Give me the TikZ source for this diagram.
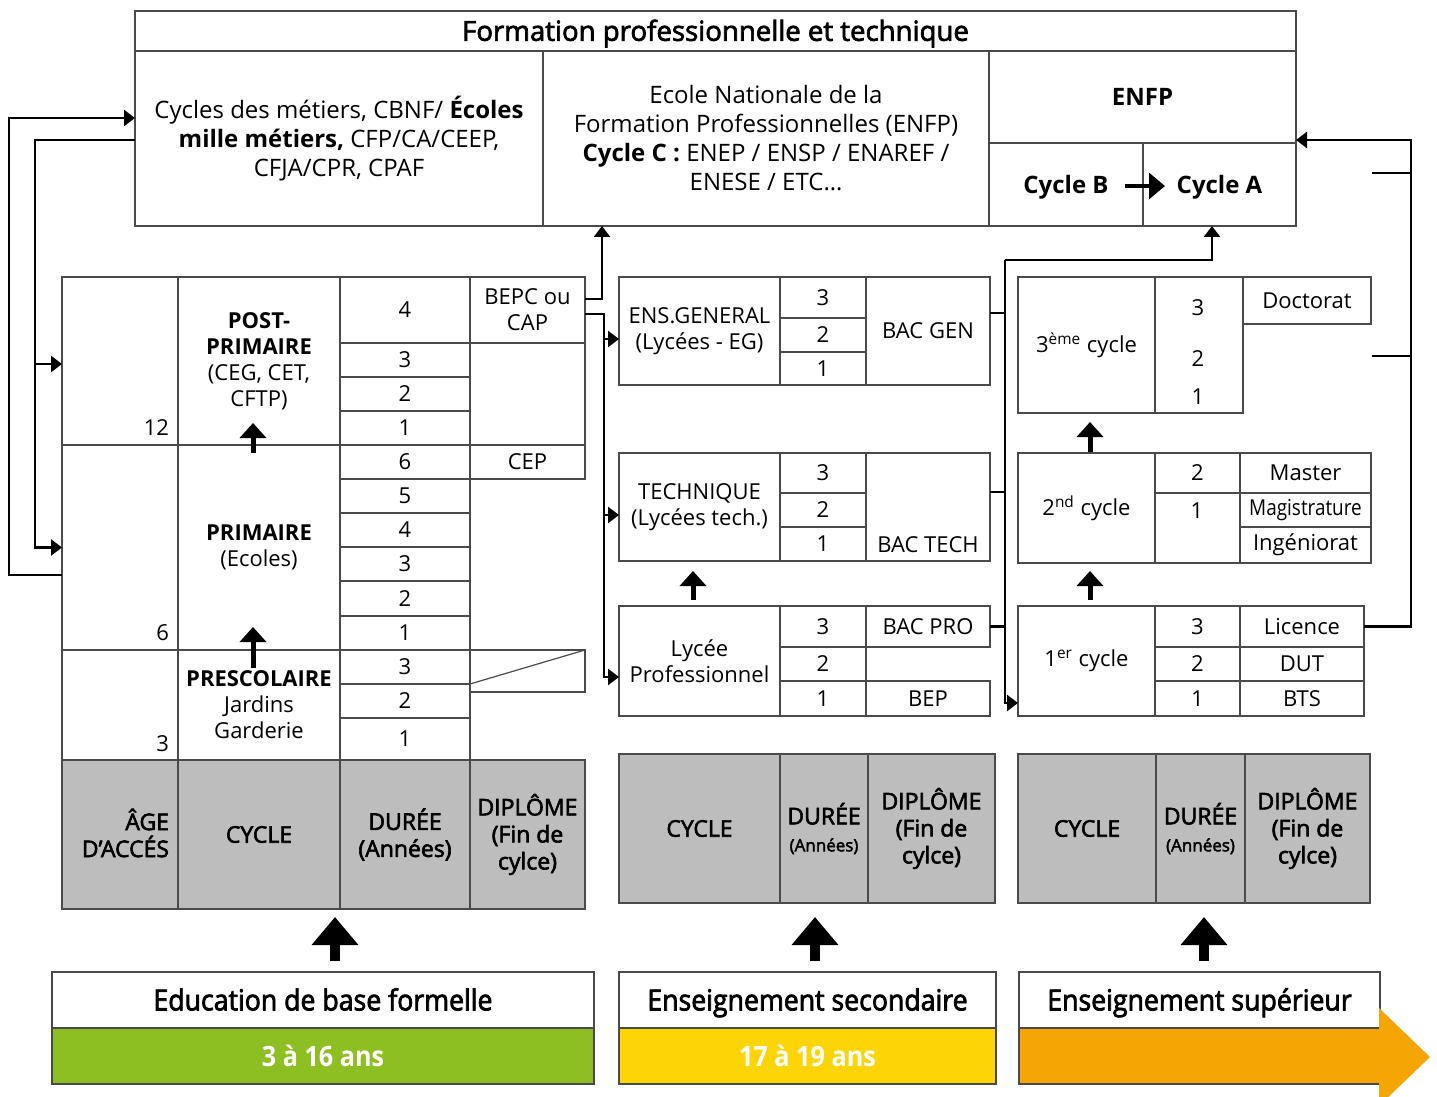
\documentclass[tikz,border=0pt]{standalone}
\usepackage{fontspec}
\usepackage{graphicx}
\setmainfont{Open Sans}
\newfontfamily\semif{Open Sans}[FakeBold=2.5]
\newfontfamily\condf{Open Sans}[FakeStretch=0.9]
\newfontfamily\condsf{Open Sans}[FakeStretch=0.92,FakeBold=2.5]
\usetikzlibrary{arrows.meta}
\definecolor{cellc}{HTML}{4A4A4A}
\definecolor{hdrgrey}{HTML}{BDBDBD}
\definecolor{vert}{HTML}{8DBE22}
\definecolor{jaune}{HTML}{FDD405}
\definecolor{orangeb}{HTML}{F5A604}
\newcommand\fs[2]{\fontsize{#1}{#2}\selectfont}
\newcommand\cellb[7][]{\node[cell,#1,minimum width={((#5)-(#3))*0.5pt},minimum height={((#6)-(#4))*0.5pt}] (#2) at ({((#3)+(#5))/2},{((#4)+(#6))/2}) {#7};}
\begin{document}
\begin{tikzpicture}[x=0.5pt,y=-0.5pt,
  cell/.style={draw=cellc,line width=0.6pt,inner sep=0pt,outer sep=0pt,align=center,font=\fs{11}{13}},
  hdr/.style={fill=hdrgrey,font=\semif\fs{11.5}{13.5}},
  txt/.style={inner sep=0pt,outer sep=0pt,align=center,font=\fs{11}{13}},
  capc/.style={text height=#1,text depth=0pt},
  conn/.style={line width=1.3pt,-{Triangle[length=5.5pt,width=8pt]}},
  plainc/.style={line width=1.3pt},
  blk/.style={line width=2.5pt,-{Triangle[length=7.5pt,width=13pt]}},
  bigblk/.style={line width=5pt,-{Triangle[length=14pt,width=22.5pt]}},
  botlab/.style={font=\condsf\fs{14.5}{16},capc=10.4pt},
  botage/.style={font=\condf\bfseries\fs{14}{16},text=white,capc=10pt}]
\fill[white] (0,0) rectangle (1437,1097);
\useasboundingbox (0,0) rectangle (1437,1097);

% ---------- top box ----------
\cellb[font=\semif\fs{13.8}{15},capc=9.8pt]{ftitle}{135}{11}{1296}{51}{Formation professionnelle et technique}
\cellb[font=\fs{12}{14.5}]{cmet}{135}{51}{543}{226}{Cycles des métiers, CBNF/ \textbf{Écoles}\\\textbf{mille métiers,} CFP/CA/CEEP,\\CFJA/CPR, CPAF}
\cellb[font=\fs{12}{14.5}]{enfpc}{543}{51}{989}{226}{Ecole Nationale de la\\Formation Professionnelles (ENFP)\\\textbf{Cycle C :} ENEP / ENSP / ENAREF /\\ENESE / ETC…}
\cellb[font=\bfseries\fs{12}{14.5},capc=8.6pt]{enfp}{989}{51}{1296}{143}{ENFP}
\cellb[font=\bfseries\fs{12}{14.5},capc=8.6pt]{cycB}{989}{143}{1143}{226}{Cycle B}
\cellb[font=\bfseries\fs{12}{14.5},capc=8.6pt]{cycA}{1143}{143}{1296}{226}{Cycle A}
\draw[line width=1.6pt,-{Triangle[length=8pt,width=13pt]}] ([xshift=-9pt,yshift=-0.75pt]cycB.east) -- ([xshift=11pt,yshift=-0.75pt]cycA.west);

% ---------- left table ----------
\cellb{agepost}{62}{277}{178}{445}{}
\node[txt,anchor=east] (a12) at (169,428) {12};
\cellb{cycpost}{178}{277}{340}{445}{\textbf{POST-}\\\textbf{PRIMAIRE}\\(CEG, CET,\\CFTP)}
\cellb{pd4}{340}{277}{470}{343}{4}
\cellb{pd3}{340}{343}{470}{377}{3}
\cellb{pd2}{340}{377}{470}{411}{2}
\cellb{pd1}{340}{411}{470}{445}{1}
\cellb{bepc}{470}{277}{585}{343}{BEPC ou\\CAP}
\cellb{pblank}{470}{343}{585}{445}{}
\cellb{cep}{470}{445}{585}{479}{CEP}

\cellb{ageprim}{62}{445}{178}{650}{}
\node[txt,anchor=east] (a6) at (169,633) {6};
\cellb{cycprim}{178}{445}{340}{650}{\textbf{PRIMAIRE}\\(Ecoles)}
\cellb{rd6}{340}{445}{470}{479}{6}
\cellb{rd5}{340}{479}{470}{513}{5}
\cellb{rd4}{340}{513}{470}{547}{4}
\cellb{rd3}{340}{547}{470}{581}{3}
\cellb{rd2}{340}{581}{470}{616}{2}
\cellb{rd1}{340}{616}{470}{650}{1}

\cellb{agepre}{62}{650}{178}{760}{}
\node[txt,anchor=east] (a3) at (169,744) {3};
\cellb{cycpre}{178}{650}{340}{760}{\textbf{PRESCOLAIRE}\\Jardins\\Garderie}
\cellb{sd3}{340}{650}{470}{684}{3}
\cellb{sd2}{340}{684}{470}{718}{2}
\cellb{sd1}{340}{718}{470}{760}{1}
\cellb{dpre}{470}{650}{585}{692}{}
\draw[draw=cellc,line width=0.6pt] ([yshift=4pt]dpre.south west) -- (dpre.north east);

\cellb[hdr]{hage}{62}{760}{178}{909}{}
\node[txt,font=\semif\fs{11.5}{13.5},align=right,anchor=east] (hagt) at (169,833) {ÂGE\\D’ACCÉS};
\cellb[hdr]{hcyc}{178}{760}{340}{909}{CYCLE}
\cellb[hdr]{hdur}{340}{760}{470}{909}{DURÉE\\(Années)}
\cellb[hdr]{hdip}{470}{760}{585}{909}{DIPLÔME\\(Fin de\\cylce)}

\cellb[botlab]{ebf}{52}{972}{594}{1028}{Education de base formelle}
\cellb[botage,fill=vert]{ebfage}{52}{1028}{594}{1084}{3 à 16 ans}

% ---------- middle (secondaire) ----------
\cellb{ensg}{619}{277}{780}{385}{ENS.GENERAL\\(Lycées - EG)}
\cellb{e3}{780}{277}{866}{318}{3}
\cellb{e2}{780}{318}{866}{352}{2}
\cellb{e1}{780}{352}{866}{385}{1}
\cellb{bacgen}{866}{277}{990}{385}{BAC GEN}

\cellb{tech}{619}{453}{780}{561}{TECHNIQUE\\(Lycées tech.)}
\cellb{t3}{780}{453}{866}{493}{3}
\cellb{t2}{780}{493}{866}{527}{2}
\cellb{t1}{780}{527}{866}{561}{1}
\cellb{bactech}{866}{453}{990}{561}{}
\node[txt] (bactt) at (928,545) {BAC TECH};

\cellb{lpro}{619}{606}{780}{716}{Lycée\\Professionnel}
\cellb{p3}{780}{606}{866}{647}{3}
\cellb{p2}{780}{647}{866}{681}{2}
\cellb{p1}{780}{681}{866}{716}{1}
\cellb{bacpro}{866}{606}{990}{647}{BAC PRO}
\cellb{bep}{866}{681}{990}{716}{BEP}

\cellb[hdr]{hcyc2}{619}{754}{780}{903}{CYCLE}
\cellb[hdr]{hdur2}{780}{754}{868}{903}{DURÉE\\{\fs{8.5}{10}(Années)}}
\cellb[hdr]{hdip2}{868}{754}{995}{903}{DIPLÔME\\(Fin de\\cylce)}

\cellb[botlab]{es}{619}{972}{996}{1028}{Enseignement secondaire}
\cellb[botage,fill=jaune]{esage}{619}{1028}{996}{1084}{17 à 19 ans}

% ---------- right (superieur) ----------
\cellb{c3}{1018}{277}{1155}{413}{3\textsuperscript{ème} cycle}
\cellb{c3d}{1155}{277}{1243}{413}{}
\node[txt] (c3n3) at (1198,308) {3};
\node[txt] (c3n2) at (1198,359) {2};
\node[txt] (c3n1) at (1198,397) {1};
\cellb{doct}{1243}{277}{1371}{324}{Doctorat}

\cellb{c2}{1018}{453}{1155}{563}{2\textsuperscript{nd} cycle}
\cellb{c2d2}{1155}{453}{1240}{493}{2}
\cellb{c2d1}{1155}{493}{1240}{563}{}
\node[txt] (c2n1) at (1197,511) {1};
\cellb{master}{1240}{453}{1371}{493}{Master}
\cellb{magis}{1240}{493}{1371}{527}{\scalebox{0.86}[1]{Magistrature}}
\cellb{ingen}{1240}{527}{1371}{563}{Ingéniorat}

\cellb{c1}{1018}{606}{1155}{716}{1\textsuperscript{er} cycle}
\cellb{c1d3}{1155}{606}{1240}{647}{3}
\cellb{c1d2}{1155}{647}{1240}{681}{2}
\cellb{c1d1}{1155}{681}{1240}{716}{1}
\cellb{lic}{1240}{606}{1364}{647}{Licence}
\cellb{dut}{1240}{647}{1364}{681}{DUT}
\cellb{bts}{1240}{681}{1364}{716}{BTS}

\cellb[hdr]{hcyc3}{1018}{754}{1156}{903}{CYCLE}
\cellb[hdr]{hdur3}{1156}{754}{1245}{903}{DURÉE\\{\fs{8.5}{10}(Années)}}
\cellb[hdr]{hdip3}{1245}{754}{1370}{903}{DIPLÔME\\(Fin de\\cylce)}

\cellb[botlab]{esup}{1019}{972}{1380}{1028}{Enseignement supérieur}
\cellb[fill=orangeb]{esupbar}{1019}{1028}{1380}{1084}{}
\fill[orangeb] (1379,1008) -- (1430,1057) -- (1379,1106) -- cycle;

% ---------- block arrows ----------
\draw[blk] ([xshift=-3pt,yshift=-4pt]cycprim.north) -- ([xshift=-3pt,yshift=11pt]cycprim.north);
\draw[blk] ([xshift=-3pt,yshift=-9pt]cycpre.north) -- ([xshift=-3pt,yshift=11.5pt]cycpre.north);
\draw[blk] ([xshift=-3.25pt,yshift=3pt]lpro.north) -- ([xshift=-3.25pt,yshift=17.5pt]lpro.north);
\draw[blk] ([xshift=1.75pt,yshift=3pt]c1.north) -- ([xshift=1.75pt,yshift=17.5pt]c1.north);
\draw[blk] ([xshift=1.75pt,yshift=0.5pt]c2.north) -- ([xshift=1.75pt,yshift=15.5pt]c2.north);
\draw[bigblk] ([xshift=6pt,yshift=5.5pt]ebf.north) -- ([xshift=6pt,yshift=27.5pt]ebf.north);
\draw[bigblk] ([xshift=3.75pt,yshift=5.5pt]es.north) -- ([xshift=3.75pt,yshift=27.5pt]es.north);
\draw[bigblk] ([xshift=2.25pt,yshift=5.5pt]esup.north) -- ([xshift=2.25pt,yshift=27.5pt]esup.north);

% ---------- connectors ----------
\draw[conn] ([yshift=-13.75pt]ageprim.west) -- ++(-26.5pt,0) |- ([yshift=10.25pt]cmet.west);
\draw[conn] ([yshift=-0.75pt]cmet.west) -- ++(-50pt,0) |- (ageprim.west);
\draw[conn] ([xshift=-13.5pt,yshift=-1.5pt]agepost.west) -- ([yshift=-1.5pt]agepost.west);

\draw[conn] ([yshift=5.5pt]bepc.east) -| ([xshift=29.5pt]enfpc.south west);
\draw[conn] ([yshift=-2pt]bepc.east) -| ([xshift=-7.5pt,yshift=-8pt]lpro.west) -- ([yshift=-8pt]lpro.west);
\draw[conn] ([xshift=-7.5pt,yshift=-4pt]ensg.west) -- ([yshift=-4pt]ensg.west);
\draw[conn] ([xshift=-7.5pt,yshift=-4pt]tech.west) -- ([yshift=-4pt]tech.west);

\coordinate (vtop) at (1005,260);
\coordinate (vbot) at (1005,703);
\draw[conn] (vtop) -| ([xshift=34.5pt]cycA.south west);
\draw[conn] (vtop) -- (vbot) -- (vbot -| c1.west);
\draw[plainc] ([yshift=9pt]bacgen.east) -- ++(7.5pt,0);
\draw[plainc] ([yshift=7.5pt]bactech.east) -- ++(7.5pt,0);
\draw[plainc] (bacpro.east) -- ++(7.5pt,0);

\coordinate (rtop) at (1411,140);
\draw[conn] (lic.east) -| (rtop) -- (rtop -| enfp.east);
\coordinate (stub1) at (1372,173);
\coordinate (stub2) at (1372,356);
\draw[plainc] (stub1) -- (stub1 -| rtop);
\draw[plainc] (stub2) -- (stub2 -| rtop);
\end{tikzpicture}
\end{document}
